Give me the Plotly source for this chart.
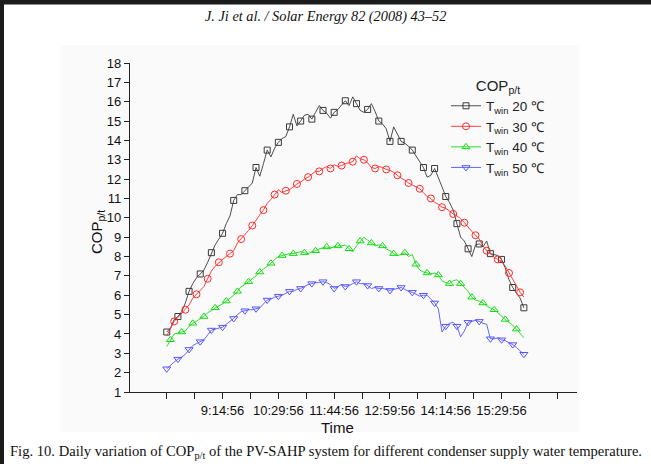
import plotly.graph_objects as go

# Sampling grid: minutes after midnight, every 5 min from 08:00 to 16:00
time_min = list(range(480, 961, 5))

cop_20 = [4.1, 4.3, 4.75, 4.9, 5.15, 5.6, 6.2, 6.6, 6.9, 7.1,
          7.3, 7.7, 8.2, 8.6, 8.9, 9.2, 9.7, 10.1, 10.9, 11.2,
          11.2, 11.4, 11.55, 11.8, 12.6, 12.15, 12.8, 13.5, 13.15, 13.6,
          13.9, 14.1, 14.2, 14.7, 15.35, 14.75, 15.0, 15.3, 15.35, 15.1,
          15.45, 15.8, 15.55, 15.4, 15.15, 15.45, 15.6, 15.8, 16.05, 15.8,
          16.25, 15.9, 15.55, 15.45, 15.6, 15.9, 15.5, 15.0, 14.85, 14.6,
          13.95, 14.7, 14.3, 13.95, 13.85, 13.7, 13.5, 13.2, 12.95, 12.6,
          12.1, 12.2, 12.55, 12.1, 11.6, 11.1, 10.8, 10.4, 9.7, 9.0,
          8.8, 8.4, 8.0, 8.6, 8.65, 8.5, 8.8, 8.15, 8.1, 8.05,
          7.85, 7.4, 6.8, 6.4, 6.1, 5.85, 5.35]

cop_30 = [3.9, 4.3, 4.65, 4.85, 5.05, 5.25, 5.5, 5.85, 6.05, 6.3,
          6.45, 6.85, 7.25, 7.5, 7.7, 7.85, 8.0, 8.15, 8.3, 8.7,
          8.9, 9.1, 9.35, 9.6, 9.9, 10.15, 10.4, 10.75, 10.95, 11.2,
          11.45, 11.3, 11.4, 11.45, 11.6, 11.75, 11.85, 12.0, 12.1, 12.25,
          12.4, 12.4, 12.55, 12.65, 12.55, 12.75, 12.65, 12.7, 12.8, 12.85,
          12.9, 13.2, 13.05, 13.0, 12.85, 12.6, 12.55, 12.65, 12.6, 12.5,
          12.45, 12.35, 12.2, 12.05, 11.95, 11.8, 11.7, 11.6, 11.5, 11.3,
          11.1, 11.0, 10.8, 10.7, 10.55, 10.5, 10.35, 10.2, 10.1, 9.95,
          9.75, 9.5, 9.3, 9.1, 8.9, 8.55, 8.3, 8.15, 7.95, 7.85,
          7.75, 7.5, 7.15, 6.8, 6.45, 6.15, 5.9]

cop_40 = [3.35, 3.7, 4.0, 4.05, 4.1, 4.15, 4.4, 4.55, 4.65, 4.8,
          4.9, 5.1, 5.2, 5.35, 5.45, 5.55, 5.7, 5.85, 6.0, 6.2,
          6.45, 6.55, 6.7, 6.85, 7.0, 7.2, 7.35, 7.5, 7.65, 7.85,
          8.0, 8.05, 8.1, 8.15, 8.15, 8.2, 8.25, 8.2, 8.15, 8.25,
          8.3, 8.4, 8.45, 8.5, 8.45, 8.5, 8.55, 8.55, 8.6, 8.4,
          8.25, 8.55, 8.8, 9.0, 8.85, 8.7, 8.55, 8.6, 8.55, 8.4,
          8.3, 8.15, 8.05, 8.1, 8.2, 8.0, 8.1, 7.6, 7.3, 7.2,
          7.15, 7.1, 7.15, 7.05, 6.75, 6.65, 6.6, 6.75, 6.8, 6.6,
          6.45, 6.2, 5.9, 5.75, 5.7, 5.6, 5.45, 5.35, 5.25, 5.1,
          4.9, 4.75, 4.6, 4.45, 4.25, 4.0, 3.8]

cop_50 = [2.2, 2.4, 2.55, 2.7, 2.8, 2.95, 3.2, 3.4, 3.5, 3.6,
          3.7, 3.95, 4.2, 4.25, 4.3, 4.35, 4.5, 4.65, 4.8, 5.0,
          5.15, 5.2, 5.25, 5.25, 5.3, 5.35, 5.55, 5.75, 5.8, 5.9,
          5.95, 6.0, 6.1, 6.2, 6.2, 6.3, 6.35, 6.45, 6.55, 6.6,
          6.65, 6.65, 6.7, 6.65, 6.55, 6.35, 6.45, 6.55, 6.45, 6.5,
          6.6, 6.7, 6.6, 6.6, 6.5, 6.35, 6.4, 6.35, 6.35, 6.3,
          6.25, 6.3, 6.35, 6.4, 6.3, 6.2, 6.15, 6.05, 5.95, 6.0,
          6.0, 5.8, 5.6, 5.3, 4.1, 4.4, 4.55, 4.6, 4.4, 3.85,
          4.15, 4.6, 4.65, 4.7, 4.65, 4.55, 4.5, 3.75, 3.75, 3.8,
          3.7, 3.65, 3.55, 3.45, 3.3, 3.1, 2.95]

series_names = ["T<sub>win</sub> 20 ℃", "T<sub>win</sub> 30 ℃",
                "T<sub>win</sub> 40 ℃", "T<sub>win</sub> 50 ℃"]

# x-axis ticks (minutes after midnight), every 37.5 min from 7:59:56
tick_vals = [479.93, 517.43, 554.93, 592.43, 629.93, 667.43, 704.93, 742.43,
             779.93, 817.43, 854.93, 892.43, 929.93, 967.43, 1004.93]
tick_text = ["", "", "9:14:56", "", "10:29:56", "", "11:44:56", "",
             "12:59:56", "", "14:14:56", "", "15:29:56", "", ""]

styles = [
    dict(color="#3a3a3a", symbol="square-open", size=6),
    dict(color="#ff2a2a", symbol="circle-open", size=7),
    dict(color="#12dc12", symbol="triangle-up-open", size=7),
    dict(color="#5555ff", symbol="triangle-down-open", size=7),
]

fig = go.Figure()
for name, vals, st in zip(series_names, [cop_20, cop_30, cop_40, cop_50], styles):
    fig.add_trace(go.Scatter(
        x=time_min, y=vals, name=name, mode="lines+markers",
        line=dict(color=st["color"], width=0.9),
        marker=dict(symbol=st["symbol"], size=st["size"], color=st["color"],
                    line=dict(width=1, color=st["color"]), maxdisplayed=33),
    ))

L, R, T, B = 130, 74, 63, 72
W, H = 651, 464
pw, ph = W - L - R, H - T - B


def px(x):
    return (x - L) / pw


def py(y):
    return (H - B - y) / ph


shapes = [
    # faint grey background of the scanned figure
    dict(type="rect", xref="paper", yref="paper", x0=px(60), x1=px(579),
         y0=py(432), y1=py(45), fillcolor="#fafafa", line=dict(width=0),
         layer="below"),
    # dark page edges
    dict(type="rect", xref="paper", yref="paper", x0=px(0), x1=px(W),
         y0=py(4.5), y1=py(-6), fillcolor="#1b1b1b", line=dict(width=0)),
    dict(type="rect", xref="paper", yref="paper", x0=px(0), x1=px(4),
         y0=py(H), y1=py(0), fillcolor="#1b1b1b", line=dict(width=0)),
]

annotations = [
    dict(text="<i>J. Ji et al. / Solar Energy 82 (2008) 43–52</i>", xref="paper",
         yref="paper", x=px(325), y=py(17), showarrow=False,
         font=dict(family="Liberation Serif", size=14.3, color="#111"),
         xanchor="center", yanchor="middle"),
    dict(text="Fig. 10. Daily variation of COP<sub>p/t</sub> of the PV-SAHP system for different condenser supply water temperature.",
         xref="paper", yref="paper", x=px(8), y=py(452), showarrow=False,
         font=dict(family="Liberation Serif", size=14.6, color="#111"),
         xanchor="left", yanchor="middle"),
    dict(text="Time", xref="paper", yref="paper", x=px(337), y=py(428),
         showarrow=False, font=dict(family="Liberation Sans", size=15, color="#111"),
         xanchor="center", yanchor="middle"),
    dict(text="COP<sub>p/t</sub>", xref="paper", yref="paper", x=px(98), y=py(232),
         showarrow=False, textangle=-90,
         font=dict(family="Liberation Sans", size=15, color="#111"),
         xanchor="center", yanchor="middle"),
]

fig.update_layout(
    width=W, height=H,
    margin=dict(l=L, r=R, t=T, b=B, pad=0),
    paper_bgcolor="white", plot_bgcolor="rgba(0,0,0,0)",
    font=dict(family="Liberation Sans", size=13, color="#111"),
    shapes=shapes, annotations=annotations,
    showlegend=True,
    legend=dict(
        x=px(446), y=py(71), xanchor="left", yanchor="top",
        bgcolor="rgba(0,0,0,0)", borderwidth=0,
        font=dict(family="Liberation Sans", size=13.5, color="#222"),
        title=dict(text="COP<sub>p/t</sub>", side="top center",
                   font=dict(family="Liberation Sans", size=15, color="#222")),
        tracegroupgap=0, itemwidth=30,
    ),
    xaxis=dict(
        range=[430.6, 1031.4], showgrid=False, zeroline=False,
        showline=True, linecolor="#222", linewidth=1.2,
        tickmode="array", tickvals=tick_vals, ticktext=tick_text,
        ticks="outside", ticklen=6, tickwidth=1.2, tickcolor="#222",
        tickfont=dict(family="Liberation Sans", size=13, color="#111"),
    ),
    yaxis=dict(
        range=[1, 18], showgrid=False, zeroline=False,
        showline=True, linecolor="#222", linewidth=1.2,
        tickmode="linear", tick0=1, dtick=1,
        ticks="outside", ticklen=5, tickwidth=1.2, tickcolor="#222",
        tickfont=dict(family="Liberation Sans", size=13, color="#111"),
    ),
)

fig.write_html(
    "out.html",
    config={"displayModeBar": False},
    post_script=(
        "document.body.style.margin='0';document.body.style.overflow='hidden';"
        "var bar=document.createElement('div');"
        "bar.style.cssText='position:fixed;top:0;left:0;width:100%;height:4px;"
        "background:#1b1b1b;z-index:10;pointer-events:none';"
        "document.body.appendChild(bar);"
    ),
)
